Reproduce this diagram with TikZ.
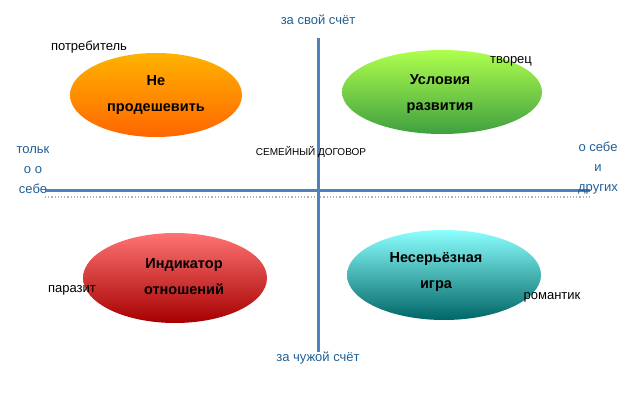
\documentclass[tikz,border=0pt]{standalone}
\usepackage{fontspec}
\setmainfont{Liberation Sans}
\begin{document}
\begin{tikzpicture}[x=1pt,y=-1pt,
  ax/.style={draw=axblue,line width=3pt},
  lbl/.style={font=\fontsize{13}{15}\selectfont},
  blbl/.style={font=\fontsize{13}{20}\selectfont,text=lbltext,align=center},
  etxt/.style={font=\bfseries\fontsize{14.5}{26}\selectfont,align=center}]
\definecolor{axblue}{RGB}{79,129,189}
\definecolor{lbltext}{RGB}{31,95,150}
\useasboundingbox (0,0) rectangle (630,417);
% ellipses
\shade[top color=orange!60!yellow, bottom color=orange!80!red] (156,95) ellipse [x radius=86, y radius=42];
\shade[top color=green!45!yellow!70!white, bottom color=green!50!black!75] (442,92) ellipse [x radius=100, y radius=42];
\shade[top color=red!55!white, bottom color=red!65!black] (175,278) ellipse [x radius=92, y radius=45];
\shade[top color=cyan!45!white, bottom color=teal!80!black] (444,275) ellipse [x radius=97, y radius=45];
\node[etxt] (e1) at (156,95) {Не\\продешевить};
\node[etxt] (e2) at (440,94) {Условия\\развития};
\node[etxt] (e3) at (184,277) {Индикатор\\отношений};
\node[etxt] (e4) at (436,272) {Несерьёзная\\игра};
% axes
\coordinate (vt) at (318,38); \coordinate (vb) at (318,352);
\coordinate (hl) at (45,191); \coordinate (hr) at (590,191);
\draw[gray!60,dotted,line width=1.2pt] (45,197) -- (590,197);
\draw[ax] (vt) -- (vb);
\draw[ax] (hl) -- (hr);
% labels
\node[lbl] (p) at (89,47) {потребитель};
\node[lbl] (t) at (511,61) {творец};
\node[lbl] (pa) at (72,290) {паразит};
\node[lbl] (r) at (552,297) {романтик};
\node[font=\fontsize{10}{12}\selectfont] (sd) at (311,152) {СЕМЕЙНЫЙ ДОГОВОР};
\node[blbl] (top) at (318,20) {за свой счёт};
\node[blbl] (bot) at (318,358) {за чужой счёт};
\node[blbl] (l) at (33,170) {тольк\\о о\\себе};
\node[blbl] (rr) at (598,168) {о себе\\и\\других};
\end{tikzpicture}
\end{document}
